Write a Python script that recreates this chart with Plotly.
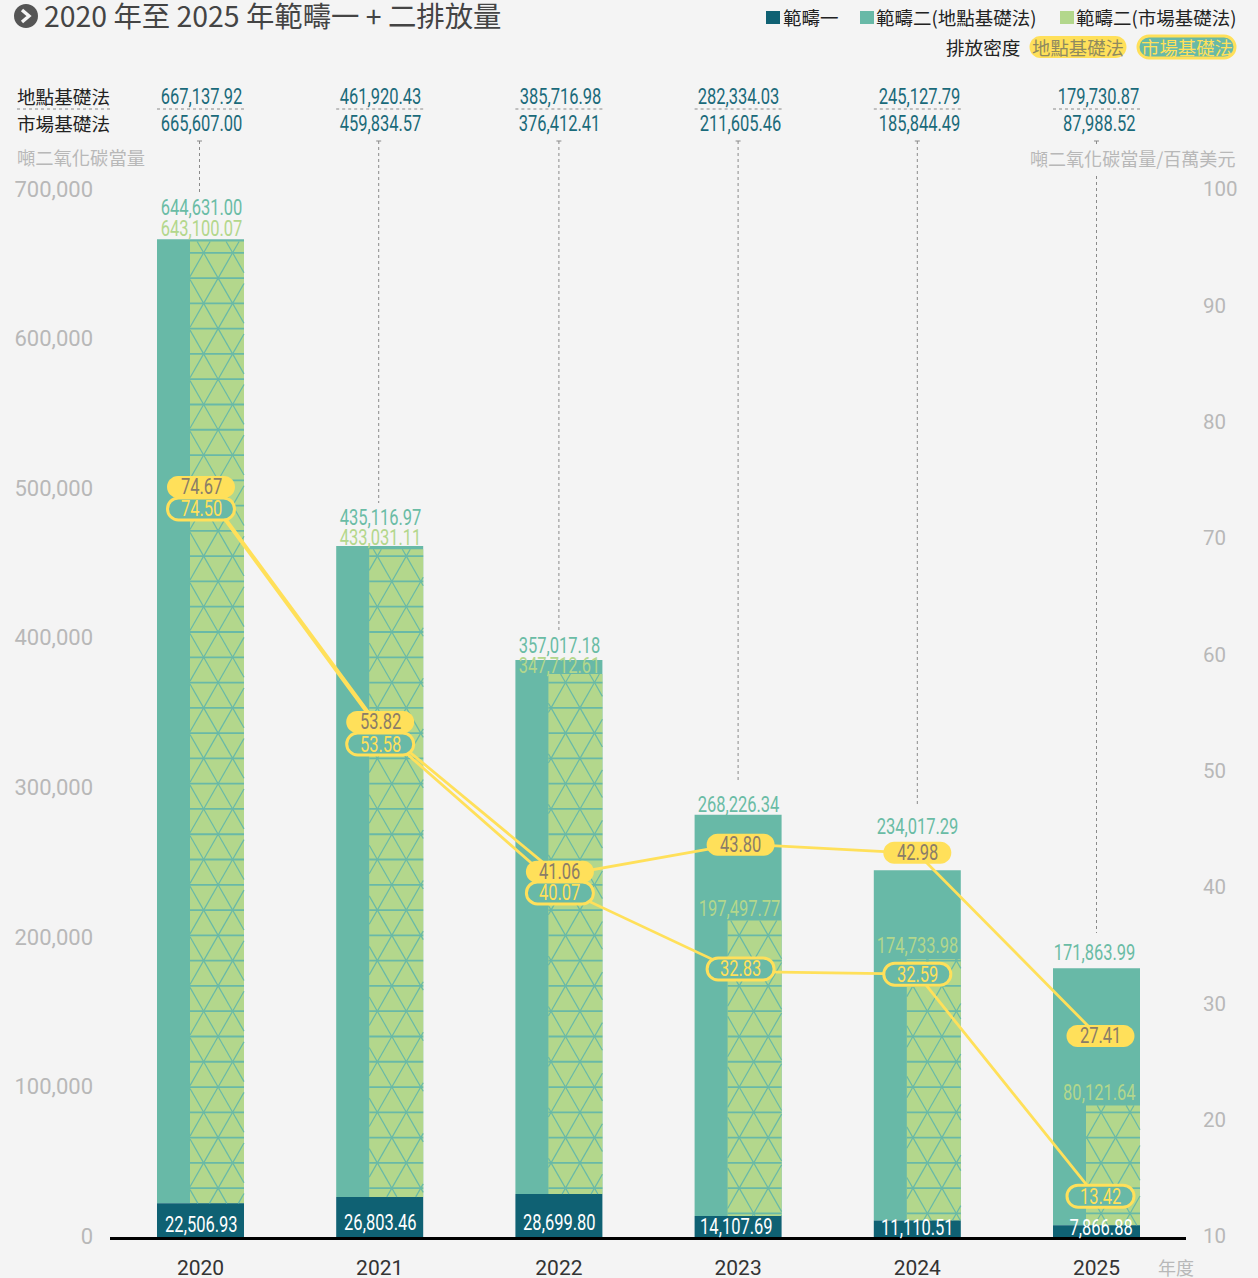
import math
import plotly.graph_objects as go

# ---------- data ----------
years = [2020, 2021, 2022, 2023, 2024, 2025]
scope1 = [22506.93, 26803.46, 28699.80, 14107.69, 11110.51, 7866.88]
scope2_location = [644631.00, 435116.97, 357017.18, 268226.34, 234017.29, 171863.99]
scope2_market = [643100.07, 433031.11, 347712.61, 197497.77, 174733.98, 80121.64]
total_location = [667137.92, 461920.43, 385716.98, 282334.03, 245127.79, 179730.87]
total_market = [665607.00, 459834.57, 376412.41, 211605.46, 185844.49, 87988.52]
intensity_location = [74.67, 53.82, 41.06, 43.80, 42.98, 27.41]
intensity_market = [74.50, 53.58, 40.07, 32.83, 32.59, 13.42]
left_ticks = [0, 100000, 200000, 300000, 400000, 500000, 600000, 700000]
right_ticks = [10, 20, 30, 40, 50, 60, 70, 80, 90, 100]

# ---------- layout constants (pixels on the page) ----------
W, H = 1258, 1278
L, R, T, B = 110, 1186, 190, 1237
STEP = 179.2
C0 = 200.5
PX_PER_UNIT = (B - T) / 700000
BG = "#f4f4f4"
DARK = "#0f6173"
TEAL = "#68b9a7"
GREEN = "#b3d78c"
YEL = "#ffe05a"
PILLTXT = "#8a7d68"
GREY = "#b8b8b8"
NUM = "Roboto, sans-serif"
NUMSIZE = 22
CJK = "Noto Sans CJK TC, sans-serif"

# nudges of the intensity pills away from their true value, in px
loc_dy = [2.3, -5.3, -3.8, 1, -0.5, 1.5]
mkt_dy = [22.3, 14, 5.7, -2.5, 0, -1]
pill_dx = [0.5, 0.5, 1, 2.5, 0, 4]
U2 = (B - T) / 90  # px per intensity unit


def xp(px):
    return (px - L) / (R - L)


def yp(py):
    return (B - py) / (B - T)


def x_data(px):
    return 2020 + (px - C0) / STEP


def y_data(py):
    return (B - py) / PX_PER_UNIT


def pill_path(w, h):
    r = h / 2
    a = w / 2 - r
    k = 0.5523 * r
    return (
        f"M {-a} {-r} L {a} {-r} C {a+k} {-r} {a+r} {-k} {a+r} 0 "
        f"C {a+r} {k} {a+k} {r} {a} {r} L {-a} {r} "
        f"C {-a-k} {r} {-a-r} {k} {-a-r} 0 C {-a-r} {-k} {-a-k} {-r} {-a} {-r} Z"
    )


shapes, notes = [], []


def pill(xref, xa, yref, ya, w, h, fill, lc=None, lw=0):
    shapes.append(dict(
        type="path", xref=xref, yref=yref, xsizemode="pixel", ysizemode="pixel",
        xanchor=xa, yanchor=ya, path=pill_path(w, h), fillcolor=fill,
        line=dict(color=lc or fill, width=lw), layer="above",
    ))


def note(text, x, y, size, color, font=NUM, xanchor="center", xref="paper", yref="paper"):
    notes.append(dict(
        text=text, x=x, y=y, xref=xref, yref=yref, xanchor=xanchor, yanchor="middle",
        showarrow=False, borderpad=0, font=dict(family=font, size=size, color=color),
    ))


def px_note(text, px, py, size, color, font=NUM, xanchor="center"):
    note(text, xp(px), yp(py), size, color, font, xanchor)


def px_line(x0, y0, x1, y1, color="#8a8a8a", width=1, dash="dot"):
    shapes.append(dict(type="line", xref="paper", yref="paper", x0=xp(x0), x1=xp(x1),
                       y0=yp(y0), y1=yp(y1), line=dict(color=color, width=width, dash=dash)))


# ---------- triangular hatch on the market bars ----------
PX, PY = 28.95, 25.28
MK_L, MK_W = -10.5, 54
LOC_L, LOC_W = -43.5, 87


def clip(x0, y0, x1, y1, xa, xb, ya, yb):
    t0, t1 = 0.0, 1.0
    dx, dy = x1 - x0, y1 - y0
    for p, q in ((-dx, x0 - xa), (dx, xb - x0), (-dy, y0 - ya), (dy, yb - y0)):
        if p == 0:
            if q < 0:
                return None
        else:
            t = q / p
            if p < 0:
                t0 = max(t0, t)
            else:
                t1 = min(t1, t)
    if t0 >= t1:
        return None
    return x0 + t0 * dx, y0 + t0 * dy, x0 + t1 * dx, y0 + t1 * dy


hx, hy, dx_, dy_ = [], [], [], []
for i, yr in enumerate(years):
    xa = C0 + STEP * i + MK_L
    xb = xa + MK_W
    ya = B - total_market[i] * PX_PER_UNIT
    yb = B - scope1[i] * PX_PER_UNIT
    for k in range(int(ya // PY) - 1, int(yb // PY) + 2):
        yk = k * PY
        if ya <= yk <= yb:
            hx += [x_data(xa), x_data(xb), None]
            hy += [y_data(yk), y_data(yk), None]
        shift = 0.5 if k % 2 else 0.0
        for n in range(int(xa // PX) - 2, int(xb // PX) + 3):
            vx = 1 + (n + shift) * PX
            for sgn in (-1, 1):
                seg = clip(vx, yk, vx + sgn * PX / 2, yk + PY, xa, xb, ya, yb)
                if seg:
                    dx_ += [x_data(seg[0]), x_data(seg[2]), None]
                    dy_ += [y_data(seg[1]), y_data(seg[3]), None]

# ---------- traces ----------
fig = go.Figure()
fig.add_bar(x=years, y=scope2_location, base=scope1, offset=LOC_L / STEP, width=LOC_W / STEP,
            marker=dict(color=TEAL, line=dict(width=0)), showlegend=False, name="範疇二(地點基礎法)")
fig.add_bar(x=years, y=scope2_market, base=scope1, offset=MK_L / STEP, width=MK_W / STEP,
            marker=dict(color=GREEN, line=dict(width=0)), showlegend=False, name="範疇二(市場基礎法)")
fig.add_scatter(x=dx_, y=dy_, mode="lines", line=dict(color=TEAL, width=1.2, simplify=False),
                showlegend=False, hoverinfo="skip")
fig.add_scatter(x=hx, y=hy, mode="lines", line=dict(color=TEAL, width=1.8, simplify=False),
                showlegend=False, hoverinfo="skip")
fig.add_bar(x=years, y=scope1, offset=LOC_L / STEP, width=LOC_W / STEP,
            marker=dict(color=DARK, line=dict(width=0)), showlegend=False, name="範疇一")

fig.add_scatter(x=years, y=intensity_market, yaxis="y2", mode="lines", line=dict(color=YEL, width=2.8),
                showlegend=False, name="排放密度(市場基礎法)")
fig.add_scatter(x=years, y=intensity_location, yaxis="y2", mode="lines", line=dict(color=YEL, width=2.8),
                showlegend=False, name="排放密度(地點基礎法)")

# ---------- pills ----------
pill_x = [y + d / STEP for y, d in zip(years, pill_dx)]
loc_py = [v - d / U2 for v, d in zip(intensity_location, loc_dy)]
mkt_py = [v - d / U2 for v, d in zip(intensity_market, mkt_dy)]
for i in range(6):
    pill("x", pill_x[i], "y2", loc_py[i], 68, 22, YEL)
    note(f"{intensity_location[i]:.2f}", pill_x[i], loc_py[i], NUMSIZE, PILLTXT, xref="x", yref="y2")
for i in range(6):
    pill("x", pill_x[i], "y2", mkt_py[i], 67, 22, TEAL, YEL, 3)
    note(f"{intensity_market[i]:.2f}", pill_x[i], mkt_py[i], NUMSIZE, YEL, xref="x", yref="y2")

# ---------- value labels ----------
loc_lift = [32, 29, 15, 10, 44, 16]
mkt_lift = [13, 12, 8, 12, 14, 13]
s1_y = [1224, 1222, 1222, 1226, 1227, 1227]
loc_dx = [0.5, 0.5, 0.5, 0.5, 0.5, -2.5]
mkt_dx = [0.5, 0.5, 0.5, 1.5, 0.5, 3]
s1_dx = [1, 1, 1, -1.5, 0, 4]
head1_x = [201, 380.5, 560, 738, 919.5, 1098.5]
head2_x = [201, 380.5, 559.5, 740, 919.5, 1099]
leader_end = [193, 503, 630, 783, 805, 933]
LOC_LABEL = "#6abca5"
HEAD = "#1a6a7a"

for i, yr in enumerate(years):
    c = C0 + STEP * i
    note(f"{scope2_location[i]:,.2f}", xp(c + loc_dx[i]), yp(B - total_location[i] * PX_PER_UNIT - loc_lift[i]), NUMSIZE, LOC_LABEL)
    note(f"{scope2_market[i]:,.2f}", xp(c + mkt_dx[i]), yp(B - total_market[i] * PX_PER_UNIT - mkt_lift[i]), NUMSIZE, GREEN)
    px_note(f"{scope1[i]:,.2f}", c + s1_dx[i], s1_y[i], NUMSIZE, "#ffffff")
    px_note(f"{total_location[i]:,.2f}", head1_x[i], 96, NUMSIZE, HEAD)
    px_note(f"{total_market[i]:,.2f}", head2_x[i], 124, NUMSIZE, HEAD)
    px_line(c - 43.5, 109, c + 43.5, 109)
    lx = c - 1 if i < 2 else c
    px_line(lx - 2.5, 141, lx + 2.5, 141, dash="solid")
    if i < 5:
        px_line(lx, 141, lx, leader_end[i])
    else:
        px_line(lx, 141, lx, 147)
        px_line(lx, 176, lx, leader_end[i])

px_line(17, 109, 110, 109)
px_note("地點基礎法", 16, 95, 18.6, "#222222", CJK, "left")
px_note("市場基礎法", 16, 123, 18.6, "#222222", CJK, "left")
px_note("噸二氧化碳當量", 15.5, 157, 18.3, GREY, CJK, "left")
px_note("噸二氧化碳當量/百萬美元", 1236, 158, 18.05, GREY, CJK, "right")
px_note("年度", 1157, 1267, 18, GREY, CJK, "left")

# ---------- title ----------
pill("paper", xp(26), "paper", yp(16), 24, 24, "#555555")
shapes.append(dict(type="path", xref="paper", yref="paper", xsizemode="pixel", ysizemode="pixel",
                   xanchor=xp(26), yanchor=yp(16), path="M -4 -6 L 3 0 L -4 6",
                   line=dict(color="#f4f4f4", width=3.4), layer="above"))
px_note("2020 年至 2025 年範疇一 + 二排放量", 43, 14.5, 28.4, "#444444", CJK, "left")

# ---------- legend ----------
for sx, tx, col, txt in ((766, 781.5, DARK, "範疇一"),
                         (860, 874.5, TEAL, "範疇二(地點基礎法)"),
                         (1060, 1074.5, GREEN, "範疇二(市場基礎法)")):
    shapes.append(dict(type="rect", xref="paper", yref="paper", x0=xp(sx), x1=xp(sx + 14),
                       y0=yp(11), y1=yp(24), fillcolor=col, line=dict(width=0), layer="above"))
    px_note(txt, tx, 17, 18.5, "#222222", CJK, "left")
px_note("排放密度", 944.5, 47, 18.6, "#222222", CJK, "left")
pill("paper", xp(1078), "paper", yp(47), 97, 22, YEL)
px_note("地點基礎法", 1078, 47, 18.4, "#8f8a5f", CJK)
pill("paper", xp(1186.5), "paper", yp(47), 97, 22, TEAL, YEL, 3)
px_note("市場基礎法", 1186.5, 47, 18.4, YEL, CJK)

# ---------- layout ----------
fig.update_layout(
    width=W, height=H, autosize=False,
    margin=dict(l=L, r=W - R, t=T, b=H - B, pad=0, autoexpand=False),
    paper_bgcolor=BG, plot_bgcolor=BG,
    barmode="overlay", showlegend=False, shapes=shapes, annotations=notes,
    xaxis=dict(range=[x_data(L), x_data(R)], tickmode="array", tickvals=years, automargin=False,
               ticktext=[str(y) for y in years], showgrid=False, zeroline=False,
               showline=True, linecolor="#000000", linewidth=2.5, ticks="",
               ticklabelstandoff=10, tickfont=dict(family="Roboto", size=21, color="#333333")),
    yaxis=dict(range=[0, 700000], tickmode="array", tickvals=left_ticks, automargin=False,
               ticktext=[f"{v:,}" for v in left_ticks], showgrid=False, zeroline=False,
               showline=False, ticks="", ticklabelstandoff=16, ticklabelshift=-1,
               tickfont=dict(family="Roboto", size=22, color=GREY)),
    yaxis2=dict(range=[10, 100], overlaying="y", side="right", tickmode="array", automargin=False,
                tickvals=right_ticks, ticktext=[str(v) for v in right_ticks],
                showgrid=False, zeroline=False, showline=False, ticks="",
                ticklabelstandoff=16, ticklabelshift=-1,
                tickfont=dict(family="Roboto", size=20.5, color=GREY)),
)

# Narrow the numeric labels to the condensed look of the original (still live text).
condense = """
document.body.style.margin='0';document.body.style.background='#f4f4f4';
var gd=document.getElementById('{plot_id}');
function condense(){
  gd.querySelectorAll('text.annotation-text').forEach(function(t){
    if(/^[0-9.,]+$/.test(t.textContent)){
      var x=parseFloat(t.getAttribute('x'))||0;
      t.setAttribute('transform','translate('+x+' 0) scale(0.75 1) translate('+(-x)+' 0)');
    }
  });
}
condense();gd.on('plotly_afterplot',condense);setTimeout(condense,100);
"""
fig.write_html("out.html", config={"displayModeBar": False}, post_script=condense)
